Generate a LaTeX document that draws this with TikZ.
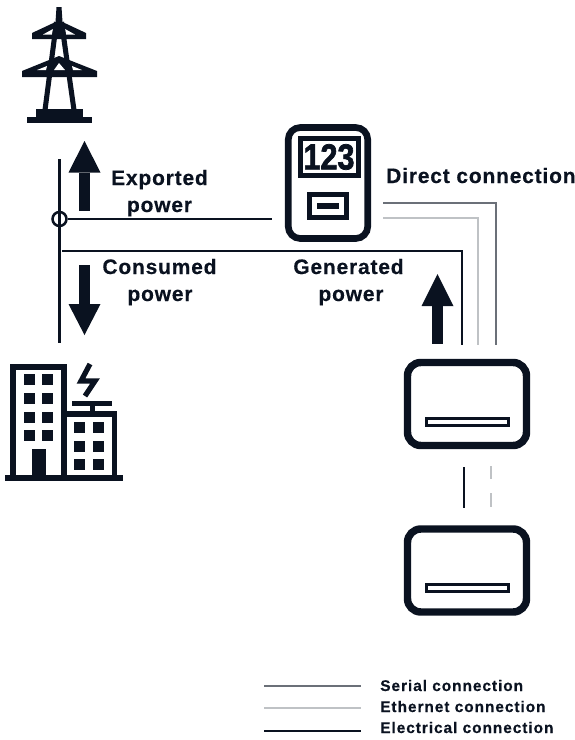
\documentclass[tikz,border=0pt]{standalone}
\usepackage{fontspec}
\setmainfont{Liberation Sans}
\usepackage{xcolor}
\definecolor{inkdark}{HTML}{0A1220}
\definecolor{serialgray}{HTML}{6B7078}
\definecolor{ethernetgray}{HTML}{BFC2C5}
\usetikzlibrary{positioning}
\tikzset{
  label text/.style={font=\fontsize{15.7}{15.7}\selectfont\bfseries\addfontfeature{LetterSpace=4,FakeBold=0.4}, text=inkdark, inner sep=0pt, anchor=base},
  legend text/.style={font=\fontsize{11.6}{11.6}\selectfont\bfseries\addfontfeature{LetterSpace=6,FakeBold=0.4}, text=inkdark, inner sep=0pt, anchor=base west},
  electrical/.style={inkdark, line width=2pt},
  serial/.style={serialgray, line width=2pt},
  ethernet/.style={ethernetgray, line width=2.2pt},
  inverterbox/.style={draw=inkdark, line width=5.6pt, rounded corners=10pt, minimum width=89.25pt, minimum height=62.25pt, inner sep=0pt},
  inverterslot/.style={draw=inkdark, fill=white, line width=2.5pt, minimum width=61.5pt, minimum height=5.25pt, inner sep=0pt},
  flow/.style={inkdark, line width=8.25pt},
}
\begin{document}
\begin{tikzpicture}[x=0.75pt,y=-0.75pt]
  \useasboundingbox (0,0) rectangle (575,740);
  % Tower
  \fill[inkdark] (56.5,7) -- (61.5,7) -- (62.5,22) -- (86,33) -- (86,39) -- (32,39) -- (32,33) -- (55.5,22) -- cycle;
  \fill[inkdark] (59,56) -- (97,71) -- (97,77) -- (22,77) -- (22,71) -- cycle;
  \fill[white] (43,34.5) -- (53,29) -- (52,34.5) -- cycle (75,34.5) -- (65,29) -- (66,34.5) -- cycle;
  \fill[white] (37,70) -- (47,66) -- (46,70) -- cycle (82,70) -- (72,66) -- (73,70) -- cycle (54,70) -- (59,63) -- (65,70) -- cycle;
  \draw[inkdark, line width=3.8pt] (56.5,22) -- (45,110) (61.5,22) -- (74,110);
  \fill[inkdark] (36,109) rectangle (83,118);
  \fill[inkdark] (27,117) rectangle (92,123);
  % Building
  \draw[inkdark, line width=4.5pt] (13.3,476) -- (13.3,366.7) -- (64,366.7) -- (64,476);
  \draw[inkdark, line width=4.2pt] (64,413.8) -- (114.5,413.8) -- (114.5,476);
  \foreach \x in {24,42} {
    \foreach \y in {374,393,412,430} {
      \fill[inkdark] (\x,\y) rectangle +(11,10.5);
    }
  }
  \foreach \x in {74,93} {
    \foreach \y in {422,441,459} {
      \fill[inkdark] (\x,\y) rectangle +(11,11);
    }
  }
  \fill[inkdark] (32,449) rectangle (46,476);
  \fill[inkdark] (5,475) rectangle (123,481);
  \fill[inkdark] (72,401) rectangle (112,406);
  \fill[inkdark] (90,406) rectangle (95,412);
  \draw[inkdark, line width=3.9pt, miter limit=6] (90,364) -- (81,381) -- (95,381) -- (85,396);
  % Meter
  \node[draw=inkdark, line width=5pt, rounded corners=9pt, minimum width=59.6pt, minimum height=83.25pt, inner sep=0pt] (meter) at (328,183) {};
  \node[draw=inkdark, fill=white, line width=3.75pt, minimum width=43.5pt, minimum height=27.75pt, inner sep=0pt, font=\fontsize{27}{27}\selectfont\bfseries\addfontfeature{FakeBold=2}, text=inkdark] (display) at (329,157) {\scalebox{0.85}[1]{123}};
  \node[draw=inkdark, fill=white, line width=3.6pt, minimum width=27.75pt, minimum height=17.25pt, inner sep=0pt] (button) at (328,206) {};
  \fill[inkdark] (317,203) rectangle (339,209);
  % Inverters
  \node[inverterbox] (inverterA) at (467,404) {};
  \node[inverterbox] (inverterB) at (467,570.5) {};
  \node[inverterslot] (slotA) at (467.5,422) {};
  \node[inverterslot] (slotB) at (467.5,588) {};
  % Junction
  \node[circle, draw=inkdark, line width=1.9pt, minimum size=10.5pt, inner sep=0pt] (junction) at (59.5,219) {};
  \coordinate (lineTop) at (59.5,159);
  \coordinate (lineBottom) at (59.5,343);
  \coordinate (meterIn) at (272,219);
  \coordinate (busLeft) at (62,251);
  \coordinate (busCorner) at (462,251);
  \coordinate (busEnd) at (462,345);
  \draw[electrical] (lineTop) -- (lineBottom);
  \draw[electrical] (junction.east) -- (meterIn);
  \draw[electrical] (busLeft) -- (busCorner) -- (busEnd);
  % Data lines
  \coordinate (serialStart) at (383,203);
  \coordinate (serialCorner) at (496,203);
  \coordinate (serialEnd) at (496,345);
  \coordinate (ethernetStart) at (383,218);
  \coordinate (ethernetCorner) at (478,218);
  \coordinate (ethernetEnd) at (478,345);
  \draw[serial] (serialStart) -- (serialCorner) -- (serialEnd);
  \draw[ethernet] (ethernetStart) -- (ethernetCorner) -- (ethernetEnd);
  % Between inverters
  \coordinate (linkTop) at (464,467);
  \coordinate (linkBottom) at (464,508);
  \coordinate (dashTop) at (491,466);
  \coordinate (dashBottom) at (491,507);
  \draw[electrical] (linkTop) -- (linkBottom);
  \draw[ethernet, dash pattern=on 10pt off 10.5pt] (dashTop) -- (dashBottom);
  % Arrows
  \foreach \name/\tipx/\tipy/\basey/\endy in {up/84.5/141/172.5/210.5,down/84.5/335/304/265,gen/437.5/274/306/344} {
    \coordinate (\name Tip) at (\tipx,\tipy);
    \coordinate (\name Base) at (\tipx,\basey);
    \coordinate (\name End) at (\tipx,\endy);
    \fill[inkdark] (\name Tip) -- ([xshift=12pt]\name Base) -- ([xshift=-12pt]\name Base) -- cycle;
    \draw[flow] (\name Base) -- (\name End);
  }
  % Labels
  \node[label text] (exported) at (159.5,185) {Exported};
  \node[label text] (exportedB) at (159.5,212) {power};
  \node[label text] (consumed) at (159.5,274) {Consumed};
  \node[label text] (consumedB) at (160,301) {power};
  \node[label text] (generated) at (348.5,274) {Generated};
  \node[label text] (generatedB) at (351,301) {power};
  \node[label text, anchor=base west] (direct) at (386,183) {Direct connection};
  % Legend
  \coordinate (serialA) at (264,686);
  \coordinate (serialB) at (361,686);
  \coordinate (ethernetA) at (264,708);
  \coordinate (ethernetB) at (361,708);
  \coordinate (electricalA) at (264,731);
  \coordinate (electricalB) at (361,731);
  \draw[serial] (serialA) -- (serialB);
  \draw[ethernet] (ethernetA) -- (ethernetB);
  \draw[electrical] (electricalA) -- (electricalB);
  \node[legend text] (serialText) at (380,691) {Serial connection};
  \node[legend text] (ethernetText) at (380,712) {Ethernet connection};
  \node[legend text] (electricalText) at (380,733) {Electrical connection};
\end{tikzpicture}
\end{document}
